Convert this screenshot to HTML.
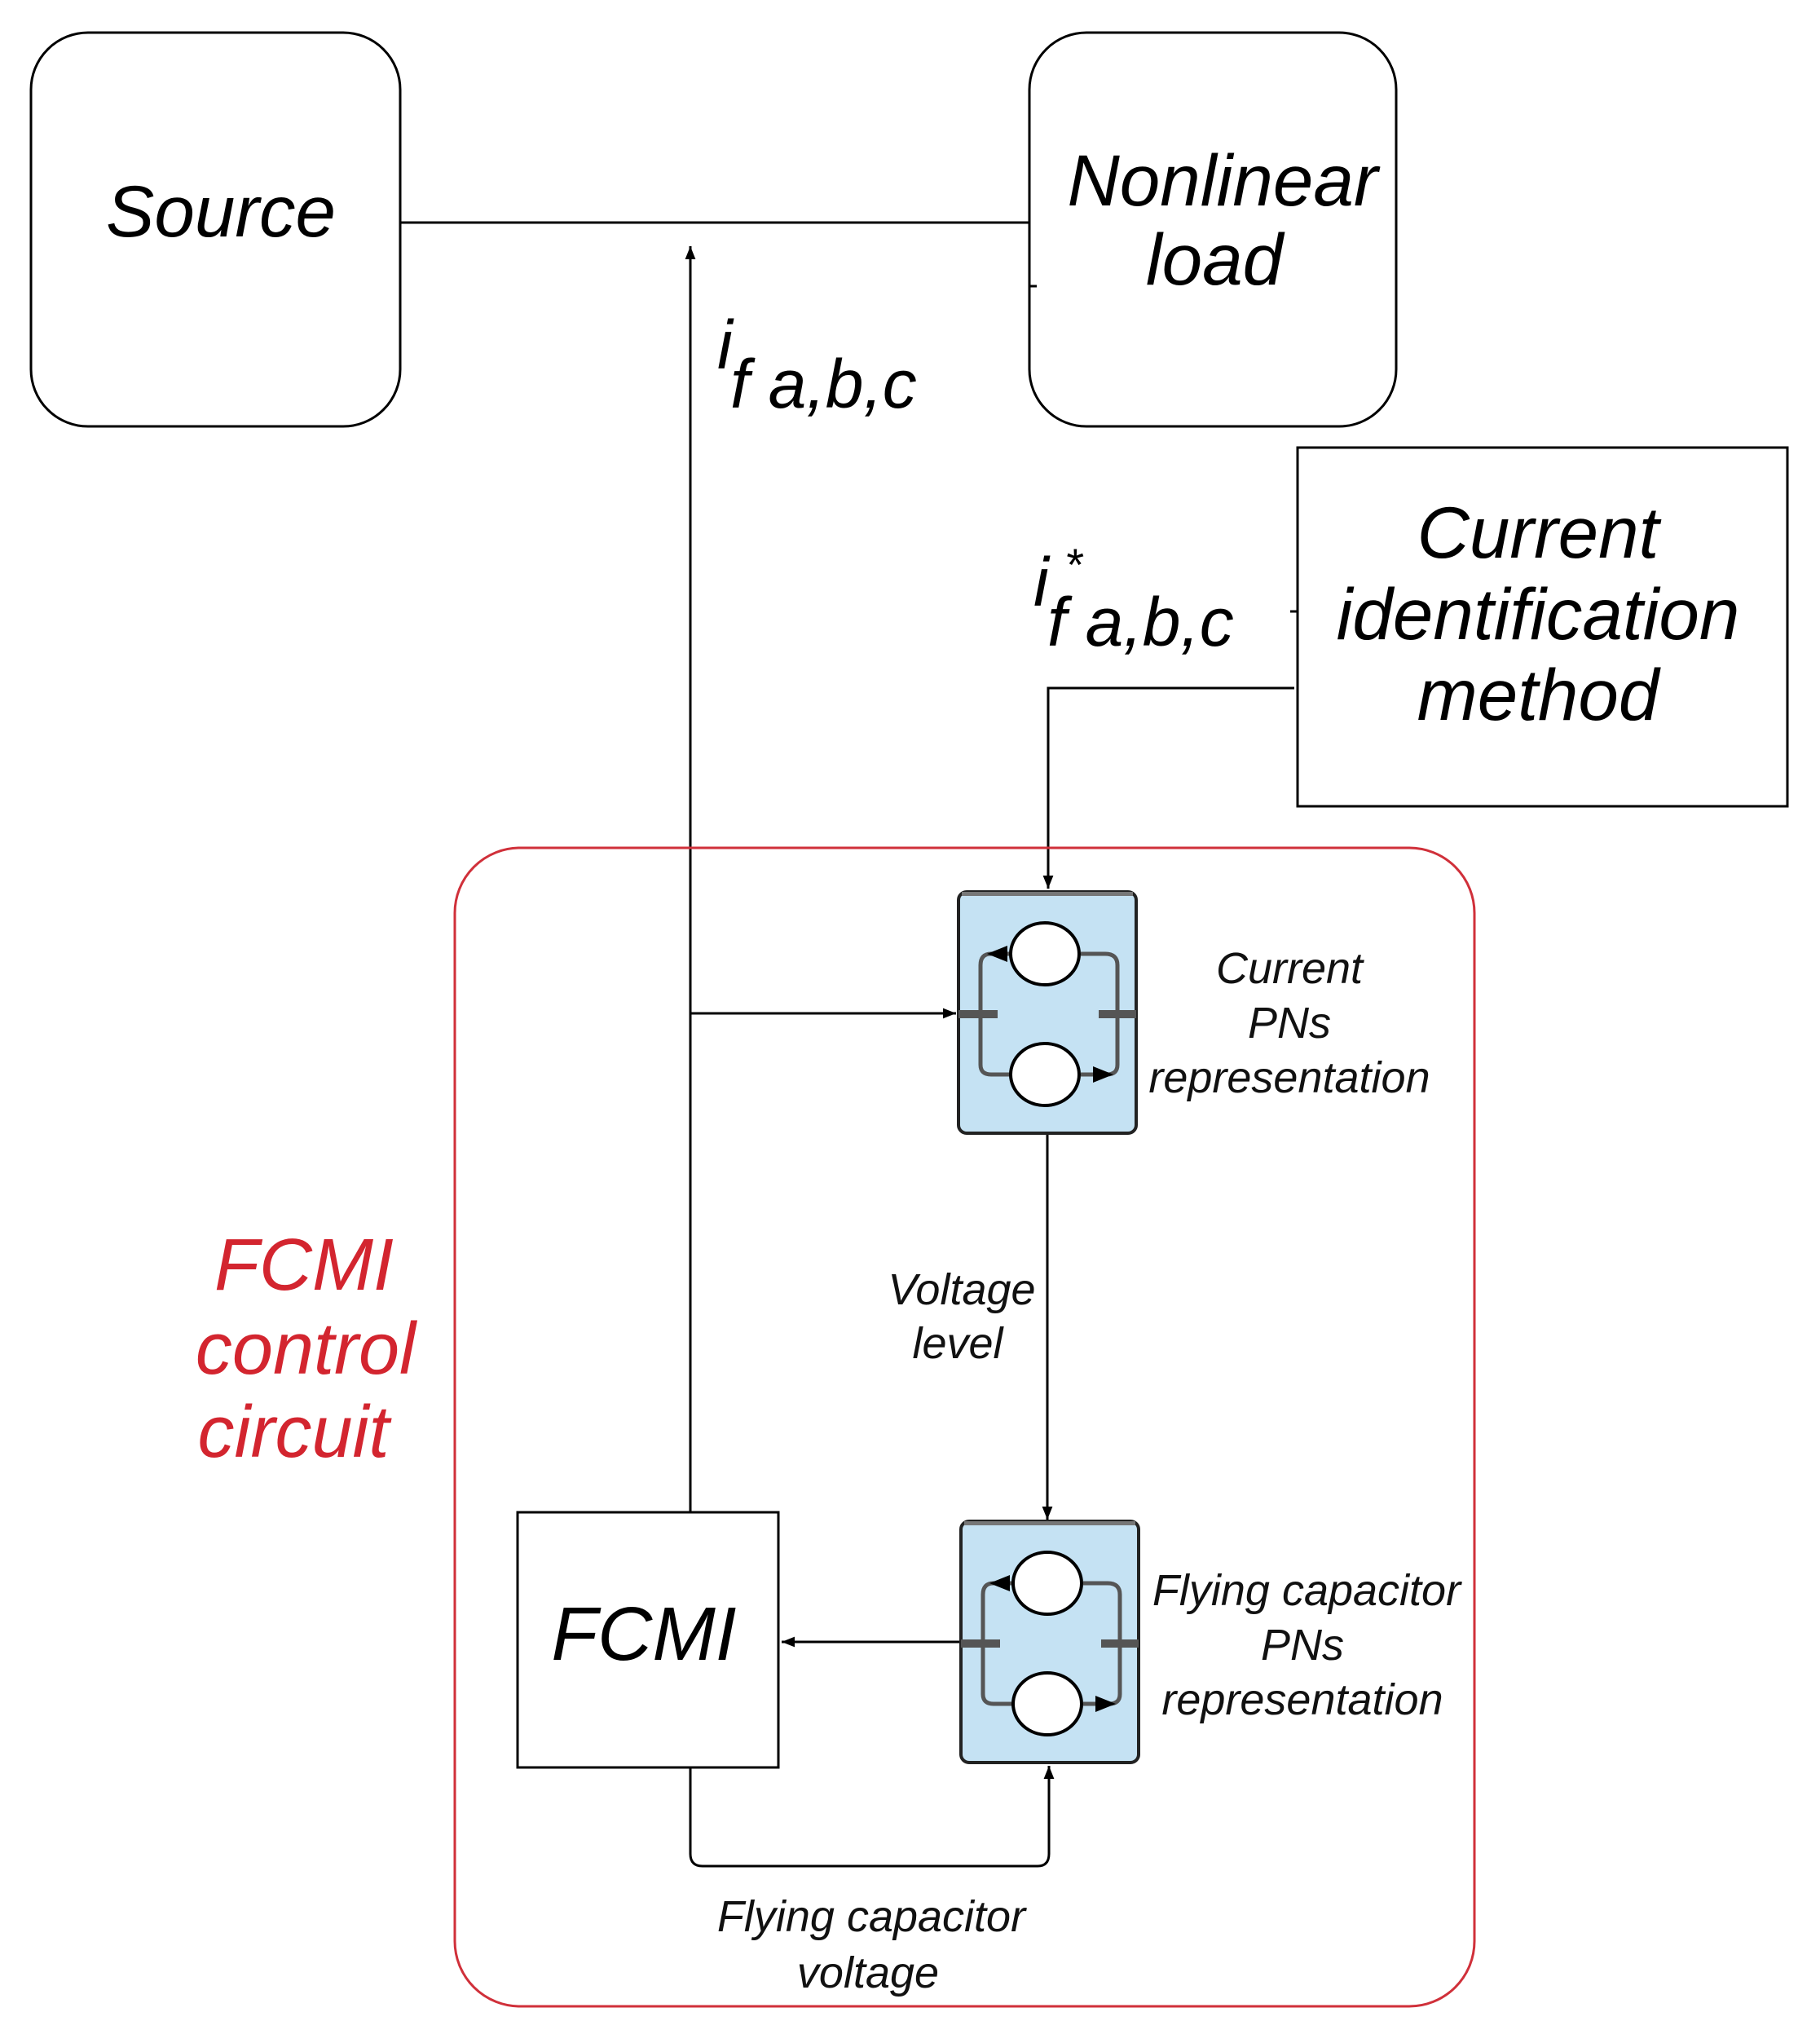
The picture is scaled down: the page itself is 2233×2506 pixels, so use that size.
<!DOCTYPE html>
<html><head><meta charset="utf-8"><style>
html,body{margin:0;padding:0;background:#fff}
svg{display:block}
text{font-family:"Liberation Sans",sans-serif;font-style:italic}
</style></head><body>
<svg width="2233" height="2506" viewBox="0 0 2233 2506" xmlns="http://www.w3.org/2000/svg">
<defs>
<marker id="ah" viewBox="0 0 10 10" refX="10" refY="5" markerWidth="16" markerHeight="16" markerUnits="userSpaceOnUse" orient="auto"><path d="M0,1 L10,5 L0,9 z" fill="#000"/></marker>
<g id="pn">
<rect x="0" y="0" width="218" height="296" rx="10" fill="#c5e2f3" stroke="#222" stroke-width="4"/>
<rect x="4" y="0" width="210" height="5" fill="#777"/>
<path d="M65,76 L40,76 Q27,76 27,90 L27,212 Q27,224 40,224 L65,224" fill="none" stroke="#555" stroke-width="5"/>
<path d="M150,76 L180,76 Q195,76 195,90 L195,212 Q195,224 182,224 L150,224" fill="none" stroke="#555" stroke-width="5"/>
<path d="M35,76 L60,66 L60,86 z" fill="#000"/>
<path d="M190,224 L165,214 L165,234 z" fill="#000"/>
<ellipse cx="106" cy="76" rx="42" ry="38" fill="#fff" stroke="#000" stroke-width="4"/>
<ellipse cx="106" cy="224" rx="42" ry="38" fill="#fff" stroke="#000" stroke-width="4"/>
<rect x="0" y="145" width="48" height="10" fill="#555"/>
<rect x="172" y="145" width="46" height="10" fill="#555"/>
</g>
</defs>
<g fill="none" stroke="#000" stroke-width="3">
<rect x="38" y="40" width="453" height="483" rx="70"/>
<rect x="1263" y="40" width="450" height="483" rx="70"/>
<rect x="1592" y="549" width="601" height="440"/>
<rect x="635" y="1855" width="320" height="313"/>
<line x1="491" y1="273" x2="1263" y2="273"/>
<line x1="1263" y1="351" x2="1272" y2="351"/>
<line x1="1583" y1="750" x2="1592" y2="750"/>
<line x1="847" y1="1855" x2="847" y2="302" marker-end="url(#ah)"/>
<polyline points="1588,844 1286,844 1286,1090" marker-end="url(#ah)"/>
<line x1="847" y1="1243" x2="1173" y2="1243" marker-end="url(#ah)"/>
<line x1="1285" y1="1391" x2="1285" y2="1864" marker-end="url(#ah)"/>
<line x1="1179" y1="2014" x2="959" y2="2014" marker-end="url(#ah)"/>
<path d="M847,2168 L847,2274 Q847,2289 862,2289 L1273,2289 Q1287,2289 1287,2274 L1287,2166" marker-end="url(#ah)"/>
</g>
<rect x="558" y="1040" width="1251" height="1421" rx="80" fill="none" stroke="#d0303a" stroke-width="3"/>
<use href="#pn" x="1176" y="1094"/>
<use href="#pn" x="1179" y="1866"/>
<g font-size="89" text-anchor="middle" fill="#000">
<text x="271" y="290">Source</text>
<text x="1500" y="252">Nonlinear</text>
<text x="1490" y="349">load</text>
<text x="1887" y="684">Current</text>
<text x="1887" y="784">identification</text>
<text x="1887" y="883">method</text>
<text x="790" y="2036" font-size="93">FCMI</text>
</g>
<g font-size="84" fill="#000">
<text x="880" y="452">i</text>
<text x="896" y="500">f a,b,c</text>
<text x="1268" y="743">i</text>
<text x="1306" y="712" font-size="56">*</text>
<text x="1285" y="792">f a,b,c</text>
</g>
<g font-size="54" text-anchor="middle" fill="#111">
<text x="1582" y="1206">Current</text>
<text x="1582" y="1273">PNs</text>
<text x="1582" y="1340">representation</text>
<text x="1180" y="1600">Voltage</text>
<text x="1175" y="1666">level</text>
<text x="1603" y="1969">Flying capacitor</text>
<text x="1598" y="2036">PNs</text>
<text x="1598" y="2103">representation</text>
<text x="1069" y="2369">Flying capacitor</text>
<text x="1065" y="2438">voltage</text>
</g>
<g font-size="90" text-anchor="middle" fill="#d3252f">
<text x="373" y="1582">FCMI</text>
<text x="375" y="1685">control</text>
<text x="360" y="1787">circuit</text>
</g>
</svg>
</body></html>
